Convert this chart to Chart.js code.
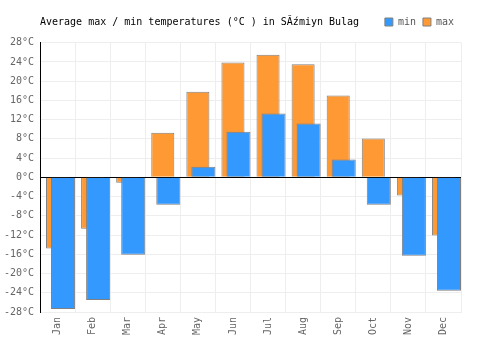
<!DOCTYPE html>
<html>
<head>
<meta charset="utf-8">
<script src="https://cdn.jsdelivr.net/npm/chart.js@4/dist/chart.umd.min.js"></script>
<style>
  html, body { margin: 0; padding: 0; background: #fff; }
  #wrap { width: 500px; height: 350px; }
</style>
</head>
<body>
<div id="wrap"><canvas id="tempChart"></canvas></div>
<script>
var months = ['Jan', 'Feb', 'Mar', 'Apr', 'May', 'Jun', 'Jul', 'Aug', 'Sep', 'Oct', 'Nov', 'Dec'];
var maxTemps = [-14.8, -10.7, -1.1, 9.3, 17.8, 23.9, 25.5, 23.5, 17.0, 8.1, -3.8, -12.1];
var minTemps = [-27.4, -25.5, -16.1, -5.7, 2.2, 9.5, 13.3, 11.2, 3.7, -5.7, -16.3, -23.6];
var yTicks = [-28, -24, -20, -16, -12, -8, -4, 0, 4, 8, 12, 16, 20, 24, 28];

var monoFont = { family: 'DejaVu Sans Mono', size: 10, weight: 'normal' };

var ctx = document.getElementById('tempChart').getContext('2d');

var tempChart = new Chart(ctx, {
    type: 'bar',
    data: {
        labels: months,
        datasets: [{
            label: 'min',
            data: minTemps.map((v, i) => ({ x: i, y: v })),
            xAxisID: 'x2',
            backgroundColor: '#3399ff',
            borderColor: '#808080',
            borderWidth: 1,
            grouped: false,
            categoryPercentage: 1,
            barPercentage: 0.686
        }, {
            label: 'max',
            data: maxTemps,
            xAxisID: 'x',
            backgroundColor: '#ff9933',
            borderColor: '#808080',
            borderWidth: 1,
            grouped: false,
            categoryPercentage: 1,
            barPercentage: 0.657
        }]
    },
    options: {
        responsive: true,
        maintainAspectRatio: false,
        animation: false,
        layout: {
            padding: { top: 10, right: 39, left: 0, bottom: 0 }
        },
        plugins: {
            title: {
                display: true,
                text: 'Average max / min temperatures (°C ) in SĂźmiyn Bulag',
                align: 'start',
                fullSize: false,
                weight: 500,
                color: '#000',
                font: monoFont,
                padding: { top: -21, bottom: 14.7 }
            },
            legend: {
                position: 'top',
                align: 'end',
                labels: {
                    font: monoFont,
                    color: '#555',
                    boxWidth: 8,
                    boxHeight: 8,
                    padding: 7
                }
            },
            tooltip: { enabled: false }
        },
        scales: {
            x: {
                type: 'category',
                offset: true,
                grid: { offset: true, color: '#eeeeee', drawTicks: false },
                border: { color: '#eeeeee' },
                ticks: {
                    font: monoFont,
                    color: '#666',
                    minRotation: 90,
                    maxRotation: 90,
                    padding: 5
                },
                afterFit: function (scale) { scale.height = 38; }
            },
            x2: {
                type: 'linear',
                display: false,
                offset: false,
                bounds: 'data',
                min: -0.657,
                max: 11.343
            },
            y: {
                min: -28,
                max: 28,
                afterBuildTicks: function (scale) {
                    scale.ticks = yTicks.map(v => ({ value: v }));
                },
                grid: {
                    drawTicks: false,
                    color: function (context) {
                        return context.tick && context.tick.value === 0 ? '#000' : '#eeeeee';
                    }
                },
                border: { color: '#000' },
                ticks: {
                    font: monoFont,
                    color: '#666',
                    padding: 6,
                    callback: function (value) {
                        return value + '°C';
                    }
                },
                afterFit: function (scale) { scale.width = 40; }
            }
        }
    }
});
</script>
</body>
</html>
